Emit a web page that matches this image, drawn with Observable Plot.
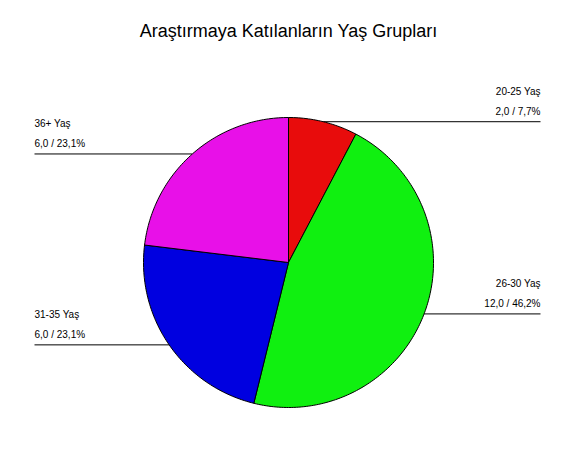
<!DOCTYPE html>
<html>
<head>
<meta charset="utf-8">
<script src="https://cdn.jsdelivr.net/npm/d3@7"></script>
<script src="https://cdn.jsdelivr.net/npm/@observablehq/plot@0.6"></script>
<style>
  html, body { margin: 0; padding: 0; background: #fff; }
  svg { display: block; }
</style>
</head>
<body>
<div id="chart"></div>
<script>
const title = "Araştırmaya Katılanların Yaş Grupları";
const categories = ["20-25 Yaş", "26-30 Yaş", "31-35 Yaş", "36+ Yaş"];
const values = [2, 12, 6, 6];
const colors = ["#e80c0c", "#10f010", "#0000e0", "#e810e8"];
const labelSide = ["right", "right", "left", "left"];

// layout (unit = pie radius)
const W = 576, H = 461, R = 145, CX = 288, CY = 262;
const labelX = {right: (540 - CX) / R, left: (34 - CX) / R};

const total = d3.sum(values);
const arcs = d3.pie().sort(null).value(d => d)(values);
const fmt = v => v.toFixed(1).replace(".", ",");

const slicePts = [];
const leaders = [];
arcs.forEach((a, i) => {
  const n = Math.max(8, Math.ceil((a.endAngle - a.startAngle) / (2 * Math.PI) * 360));
  slicePts.push({key: i, x: 0, y: 0, color: colors[i]});
  for (let k = 0; k <= n; k++) {
    const t = a.startAngle + (a.endAngle - a.startAngle) * k / n;
    slicePts.push({key: i, x: Math.sin(t), y: Math.cos(t), color: colors[i]});
  }
  slicePts.push({key: i, x: 0, y: 0, color: colors[i]});
  const m = (a.startAngle + a.endAngle) / 2;
  leaders.push({
    x1: Math.sin(m), y1: Math.cos(m),
    x2: labelX[labelSide[i]], y2: Math.cos(m),
    side: labelSide[i],
    name: categories[i],
    val: `${fmt(values[i])} / ${fmt(values[i] / total * 100)}%`
  });
});
const rightL = leaders.filter(d => d.side === "right");
const leftL = leaders.filter(d => d.side === "left");

const labelMarks = (data, anchor) => [
  Plot.text(data, {x: "x2", y: "y2", text: "val", textAnchor: anchor, dy: -7, lineAnchor: "bottom", fontSize: 10, fill: "black"}),
  Plot.text(data, {x: "x2", y: "y2", text: "name", textAnchor: anchor, dy: -27, lineAnchor: "bottom", fontSize: 10, fill: "black"})
];

const chart = Plot.plot({
  width: W, height: H,
  margin: 0,
  style: {fontFamily: "'Liberation Sans', Arial, sans-serif", background: "#fff"},
  x: {domain: [-CX / R, (W - CX) / R], axis: null},
  y: {domain: [-(H - CY) / R, CY / R], axis: null},
  color: {type: "identity"},
  marks: [
    Plot.link(leaders, {x1: "x1", y1: "y1", x2: "x2", y2: "y2", stroke: "black", strokeWidth: 1}),
    Plot.line(slicePts, {x: "x", y: "y", z: "key", fill: "color", stroke: "black", strokeWidth: 1, strokeLinejoin: "round", curve: "linear"}),
    ...labelMarks(rightL, "end"),
    ...labelMarks(leftL, "start"),
    Plot.text([title], {frameAnchor: "top", dy: 24, text: d => d, fontSize: 18, fill: "black"})
  ]
});
document.getElementById("chart").appendChild(chart);
</script>
</body>
</html>
